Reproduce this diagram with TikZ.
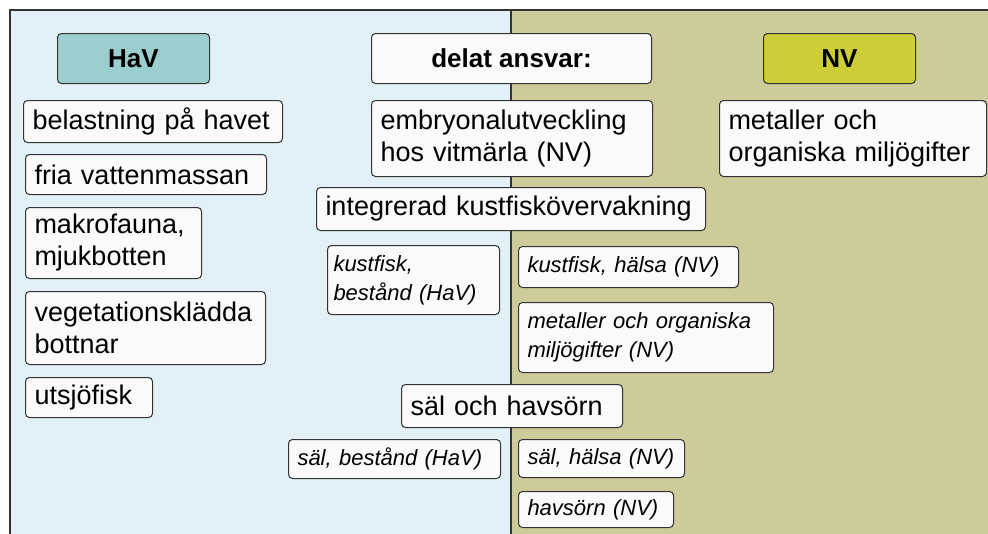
\documentclass[tikz,border=0pt]{standalone}
\usepackage{fontspec}
\setmainfont{Liberation Sans}
\definecolor{havbg}{HTML}{E2F1F7}
\definecolor{nvbg}{HTML}{CCCB99}
\definecolor{havhead}{HTML}{9BCFCF}
\definecolor{nvhead}{HTML}{CDCD37}
\definecolor{boxfill}{HTML}{FAFAFA}
\definecolor{edge}{HTML}{333333}
\tikzset{
  box/.style={draw=edge, line width=1pt, rounded corners=4pt, fill=boxfill,
    anchor=north west, inner xsep=9pt, inner ysep=0pt, align=left,
    font=\fontsize{27}{32}\selectfont},
  ibox/.style={box, font=\fontsize{22}{29}\selectfont\itshape},
  headbox/.style={box, align=center, font=\fontsize{26}{32}\selectfont\bfseries}
}
\begin{document}
\begin{tikzpicture}[x=1pt, y=-1pt]
    \useasboundingbox (0,0) rectangle (988,533);
    % Two panels: HaV left, NV right
    \fill[havbg] (10,10) rectangle (511,540);
    \fill[nvbg] (511,10) rectangle (995,540);
    \draw[edge, line width=1.2pt] (10,540) -- (10,10) -- (995,10); % Frame
    \draw[edge, line width=1.2pt] (511,10) -- (511,540); % Divider

    % Headers
    \node[headbox, fill=havhead, minimum width=152pt, minimum height=50pt] (hav) at (57,33) {HaV};
    \node[headbox, minimum width=280pt, minimum height=50pt] (delat) at (371,33) {delat ansvar:};
    \node[headbox, fill=nvhead, minimum width=152pt, minimum height=50pt] (nv) at (763,33) {NV};

    % HaV column
    \node[box, text width=241pt, minimum height=42pt] (belastning) at (23,100) {belastning på havet};
    \node[box, text width=223pt, minimum height=40pt] (fria) at (25,154) {fria vattenmassan};
    \node[box, text width=158pt, minimum height=71pt] (makro) at (25,207) {makrofauna,\\mjukbotten};
    \node[box, text width=222pt, minimum height=73pt] (veg) at (25,291) {vegetationsklädda\\bottnar};
    \node[box, text width=109pt, minimum height=40pt] (utsjo) at (25,377) {utsjöfisk};

    % Shared column
    \node[box, text width=263pt, minimum height=76pt] (embryo) at (371,100) {embryonalutveckling\\hos vitmärla (NV)};
    \node[box, text width=371pt, minimum height=43pt] (kustint) at (316,187) {integrerad kustfiskövervakning};
    \node[ibox, inner xsep=6pt, text width=160pt, minimum height=69pt] (kustbest) at (327,245) {kustfisk,\\bestånd (HaV)};
    \node[ibox, text width=202pt, minimum height=41pt] (kusthals) at (518,246) {kustfisk, hälsa (NV)};
    \node[ibox, text width=237pt, minimum height=70pt] (metnv) at (518,302) {metaller och organiska\\miljögifter (NV)};
    \node[box, text width=203pt, minimum height=43pt] (salhav) at (401,384) {säl och havsörn};
    \node[ibox, text width=194pt, minimum height=39pt] (salbest) at (288,439) {säl, bestånd (HaV)};
    \node[ibox, text width=148pt, minimum height=38pt] (salhals) at (518,439) {säl, hälsa (NV)};
    \node[ibox, text width=137pt, minimum height=36pt] (havsorn) at (518,491) {havsörn (NV)};

    % NV column
    \node[box, text width=249pt, minimum height=76pt] (metaller) at (719,100) {metaller och\\organiska miljögifter};
\end{tikzpicture}
\end{document}
